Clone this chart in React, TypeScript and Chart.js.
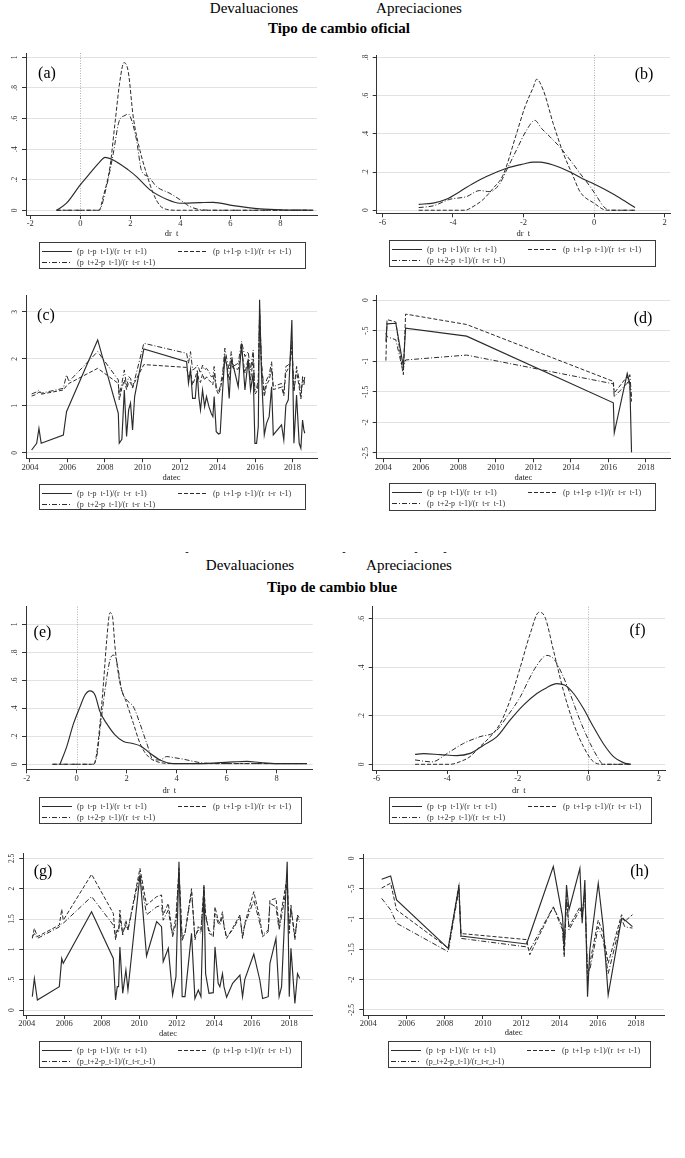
import React, { useEffect, useRef } from "react";
import { Chart, registerables } from "chart.js";
Chart.register(...registerables);

const FONT = "'Liberation Serif','Times New Roman',Times,serif";
const INK = "#2b2b2b";

// ---------------- Panel (a): official, devaluations, kernel densities ----------------
const aXSolid = [-0.95, -0.55, 0, 0.39, 0.79, 0.99, 1.32, 1.92, 2.25, 2.79, 3.45, 3.99, 4.79, 5.32, 6.12, 7.19, 8.12, 9.32];
const aYSolid = [0, 0.046, 0.166, 0.242, 0.318, 0.346, 0.329, 0.264, 0.22, 0.133, 0.072, 0.046, 0.05, 0.052, 0.03, 0.009, 0.002, 0];
const aXLead1 = [-0.95, 0.75, 0.92, 1.19, 1.39, 1.59, 1.75, 1.92, 2.12, 2.39, 2.65, 2.92, 3.19, 3.45, 3.85, 9.32];
const aYLead1 = [0, 0, 0.09, 0.285, 0.57, 0.85, 0.965, 0.906, 0.61, 0.39, 0.24, 0.11, 0.03, 0.006, 0, 0];
const aXLead2 = [-0.95, 0.75, 1.05, 1.32, 1.55, 1.79, 1.92, 2.05, 2.25, 2.45, 2.72, 3.05, 3.59, 4.0, 4.39, 4.92, 5.5, 9.32];
const aYLead2 = [0, 0, 0.155, 0.37, 0.58, 0.62, 0.63, 0.59, 0.46, 0.26, 0.22, 0.155, 0.11, 0.068, 0.024, 0.002, 0, 0];

// ---------------- Panel (b): official, appreciations ----------------
const bXSolid = [-4.97, -4.56, -4.19, -3.81, -3.43, -3.05, -2.48, -2.0, -1.72, -1.53, -1.16, -0.68, -0.3, 0, 0.36, 0.74, 1.16];
const bYSolid = [0.031, 0.037, 0.057, 0.097, 0.14, 0.176, 0.22, 0.242, 0.252, 0.252, 0.237, 0.2, 0.162, 0.137, 0.103, 0.063, 0.014];
const bXLead1 = [-4.97, -3.66, -3.43, -3.14, -2.86, -2.58, -2.2, -1.96, -1.72, -1.63, -1.44, -1.16, -0.87, -0.59, -0.4, 0, 0.36, 1.16];
const bYLead1 = [0, 0, 0.019, 0.057, 0.115, 0.184, 0.4, 0.54, 0.645, 0.685, 0.628, 0.454, 0.297, 0.176, 0.097, 0.037, 0, 0];
const bXLead2 = [-4.97, -4.56, -4.09, -3.62, -3.24, -2.95, -2.67, -2.48, -2.2, -1.91, -1.68, -1.49, -1.25, -0.97, -0.68, -0.4, -0.11, 0.08, 0.27, 0.45, 1.16];
const bYLead2 = [0.014, 0.023, 0.057, 0.071, 0.103, 0.097, 0.14, 0.21, 0.315, 0.42, 0.47, 0.428, 0.384, 0.33, 0.263, 0.193, 0.123, 0.071, 0.019, 0, 0];

// ---------------- Panel (c): official, devaluations over time ----------------
const cDates = [
  2004.09, 2004.36, 2004.48, 2004.6, 2005.78, 2005.95, 2006.08, 2007.61, 2008.71, 2008.76,
  2008.9, 2009.03, 2009.15, 2009.26, 2009.36, 2009.47, 2009.58, 2010.07, 2012.35, 2012.45,
  2012.56, 2012.67, 2012.81, 2012.92, 2013.0, 2013.09, 2013.2, 2013.31, 2013.41, 2013.54,
  2013.66, 2013.75, 2013.82, 2013.93, 2014.05, 2014.14, 2014.27, 2014.39, 2014.5, 2014.62,
  2014.73, 2014.83, 2015.1, 2015.28, 2015.46, 2015.63, 2015.76, 2015.9, 2015.99, 2016.08,
  2016.17, 2016.24, 2016.34, 2016.49, 2016.61, 2016.75, 2016.88, 2016.97, 2017.41, 2017.53,
  2017.64, 2017.77, 2017.85, 2017.96, 2018.07, 2018.21, 2018.35, 2018.44, 2018.53, 2018.6,
  2018.65,
];
const cSolid = [
  0.064, 0.206, 0.525, 0.206, 0.383, 0.879, 1.0, 2.404, 0.844, 0.206,
  0.29, 1.34, 0.35, 0.915, 1.06, 0.49, 1.2, 2.21, 1.94, 1.48,
  1.77, 1.16, 1.16, 1.7, 1.2, 0.915, 1.34, 0.986, 1.2, 0.986,
  0.844, 0.773, 1.2, 0.454, 0.404, 0.418, 1.34, 2.05, 1.84, 1.16,
  1.98, 1.87, 1.41, 2.33, 1.34, 1.98, 1.34, 1.7, 0.206, 0.206,
  0.56, 3.26, 1.7, 0.383, 0.63, 0.773, 1.41, 0.383, 0.6, 0.277,
  1.02, 1.13, 1.84, 2.83, 0.206, 1.23, 0.206, 0.1, 0.7, 0.49,
  0.42,
];
const cLead1 = [
  1.21, 1.25, 1.3, 1.25, 1.34, 1.43, 1.48, 1.8, 1.48, 1.13,
  1.38, 1.55, 1.35, 1.5, 1.5, 1.38, 1.5, 1.88, 1.82, 1.62,
  1.75, 1.45, 1.6, 1.75, 1.55, 1.5, 1.68, 1.55, 1.62, 1.55,
  1.5, 1.45, 1.7, 1.35, 1.25, 1.35, 1.6, 2.05, 1.85, 1.55,
  1.95, 1.8, 1.78, 2.2, 1.7, 2.0, 1.55, 2.0, 1.25, 1.3,
  1.45, 3.05, 1.85, 1.2, 1.45, 1.55, 1.8, 1.35, 1.4, 1.22,
  1.7, 1.8, 1.85, 2.25, 1.3, 1.75, 1.4, 1.15, 1.55, 1.45,
  1.55,
];
const cLead2 = [
  1.255, 1.3, 1.34, 1.27, 1.376, 1.66, 1.52, 2.156, 1.553, 1.234,
  1.48, 1.766, 1.41, 1.624, 1.59, 1.41, 1.553, 2.333, 2.12, 1.91,
  2.156, 1.766, 1.8, 1.87, 1.8, 1.7, 1.87, 1.766, 1.8, 1.73,
  1.624, 1.624, 1.84, 1.41, 1.3, 1.41, 1.7, 2.23, 1.98, 1.766,
  2.156, 1.84, 1.91, 2.37, 2.05, 2.156, 1.766, 2.19, 1.34, 1.376,
  1.553, 3.0, 1.94, 1.27, 1.553, 1.66, 1.94, 1.41, 1.48, 1.27,
  1.84, 1.87, 1.91, 2.4, 1.34, 1.84, 1.553, 1.2, 1.624, 1.5,
  1.62,
];

// ---------------- Panel (d): official, appreciations over time ----------------
const dDates = [2004.14, 2004.2, 2004.67, 2005.01, 2005.07, 2005.19, 2008.44, 2016.26, 2016.31, 2017.0, 2017.14, 2017.23];
const dSolid = [-0.68, -0.39, -0.38, -0.98, -1.09, -0.46, -0.59, -1.68, -2.17, -1.2, -1.36, -2.49];
const dLead1 = [-0.99, -0.32, -0.36, -1.12, -1.22, -0.23, -0.4, -1.33, -1.52, -1.25, -1.41, -1.66];
const dLead2 = [-0.54, -0.6, -0.65, -1.11, -1.11, -0.98, -0.9, -1.37, -1.58, -1.36, -1.22, -1.58];

// ---------------- Panel (e): blue, devaluations, densities ----------------
const eXSolid = [-0.67, -0.4, -0.13, 0.13, 0.33, 0.53, 0.73, 0.93, 1.2, 1.53, 1.87, 2.2, 2.6, 2.93, 3.33, 3.87, 4.93, 5.6, 6.27, 6.8, 7.33, 8.0, 9.2];
const eYSolid = [0, 0.126, 0.29, 0.41, 0.495, 0.524, 0.495, 0.376, 0.29, 0.21, 0.162, 0.15, 0.126, 0.079, 0.031, 0.005, 0.005, 0.01, 0.017, 0.021, 0.012, 0.005, 0.005];
const eXLead1 = [-0.97, 0.67, 0.8, 0.93, 1.07, 1.2, 1.33, 1.43, 1.53, 1.73, 2.0, 2.27, 2.53, 2.8, 3.2, 3.87, 9.2];
const eYLead1 = [0, 0, 0.079, 0.29, 0.58, 0.89, 1.083, 1.055, 0.84, 0.58, 0.436, 0.29, 0.15, 0.067, 0.019, 0.005, 0.005];
const eXLead2 = [-0.97, 0.67, 0.8, 0.93, 1.13, 1.33, 1.47, 1.6, 1.8, 2.0, 2.27, 2.53, 2.8, 3.07, 3.33, 3.6, 3.87, 4.27, 4.93, 5.6, 9.2];
const eYLead2 = [0, 0, 0.055, 0.245, 0.53, 0.745, 0.78, 0.733, 0.53, 0.46, 0.41, 0.29, 0.15, 0.031, 0.031, 0.055, 0.048, 0.036, 0.012, 0.005, 0.005];

// ---------------- Panel (f): blue, appreciations, densities ----------------
const fXSolid = [-4.91, -4.67, -4.2, -3.73, -3.35, -2.97, -2.59, -2.22, -1.84, -1.46, -1.18, -0.9, -0.66, -0.42, -0.14, 0.14, 0.42, 0.71, 0.99, 1.2];
const fYSolid = [0.041, 0.044, 0.04, 0.036, 0.045, 0.079, 0.114, 0.182, 0.244, 0.292, 0.316, 0.333, 0.326, 0.292, 0.23, 0.155, 0.086, 0.032, 0.007, 0];
const fXLead1 = [-4.91, -3.92, -3.63, -3.35, -3.07, -2.78, -2.5, -2.22, -1.93, -1.65, -1.4, -1.23, -0.99, -0.71, -0.42, -0.14, 0.14, 0.42, 1.2];
const fYLead1 = [0, 0, 0.011, 0.032, 0.073, 0.114, 0.168, 0.264, 0.4, 0.538, 0.627, 0.607, 0.47, 0.305, 0.168, 0.073, 0.011, 0, 0];
const fXLead2 = [-4.91, -4.43, -4.0, -3.54, -3.07, -2.64, -2.31, -1.93, -1.65, -1.46, -1.18, -0.99, -0.75, -0.52, -0.24, 0.05, 0.28, 0.42, 1.2];
const fYLead2 = [0.018, 0.01, 0.045, 0.086, 0.114, 0.134, 0.196, 0.278, 0.36, 0.408, 0.449, 0.436, 0.374, 0.292, 0.182, 0.086, 0.025, 0, 0];

// ---------------- Panel (g): blue, devaluations over time ----------------
const gDates = [
  2004.3, 2004.41, 2004.57, 2005.74, 2005.87, 2005.95, 2007.46, 2008.62, 2008.74, 2008.83,
  2008.9, 2008.97, 2009.12, 2009.29, 2009.4, 2010.04, 2010.39, 2010.93, 2011.19, 2011.28,
  2011.55, 2011.78, 2011.96, 2012.12, 2012.29, 2012.44, 2012.79, 2012.97, 2013.15, 2013.29,
  2013.45, 2013.54, 2013.72, 2013.95, 2014.04, 2014.21, 2014.3, 2014.44, 2014.52, 2014.66,
  2014.98, 2015.37, 2015.51, 2015.63, 2016.11, 2016.43, 2016.58, 2016.88, 2016.97, 2017.29,
  2017.46, 2017.59, 2017.89, 2018.0, 2018.09, 2018.3, 2018.44, 2018.56,
];
const gSolid = [
  0.22, 0.52, 0.165, 0.385, 0.85, 0.77, 1.62, 0.85, 0.165, 0.385,
  0.385, 1.04, 0.275, 0.66, 0.33, 2.225, 0.89, 1.456, 1.374, 0.797,
  1.016, 0.247, 0.55, 2.445, 0.22, 0.22, 1.264, 0.19, 0.33, 0.22,
  2.06, 0.6, 0.275, 0.286, 1.04, 0.44, 0.385, 0.6, 0.385, 0.21,
  0.44, 0.577, 0.22, 0.505, 0.923, 0.495, 0.19, 0.22, 0.77, 1.18,
  0.22, 0.385, 2.445, 0.22, 1.016, 0.11, 0.6, 0.52,
];
const gLead1 = [
  1.18, 1.346, 1.21, 1.4, 1.66, 1.48, 2.236, 1.593, 1.154, 1.32,
  1.3, 1.648, 1.236, 1.48, 1.32, 2.335, 1.73, 1.868, 1.896, 1.566,
  1.758, 1.236, 1.538, 2.335, 1.18, 1.264, 2.0, 1.154, 1.374, 1.32,
  2.03, 1.593, 1.264, 1.22, 1.7, 1.48, 1.43, 1.62, 1.374, 1.18,
  1.35, 1.566, 1.18, 1.43, 1.95, 1.51, 1.21, 1.29, 1.81, 1.84,
  1.374, 1.65, 2.2, 1.264, 1.73, 1.154, 1.566, 1.5,
];
const gLead2 = [
  1.21, 1.26, 1.18, 1.37, 1.43, 1.43, 1.87, 1.4, 1.21, 1.32,
  1.28, 1.51, 1.26, 1.4, 1.32, 2.25, 1.57, 1.7, 1.73, 1.48,
  1.65, 1.21, 1.43, 2.25, 1.15, 1.26, 1.95, 1.21, 1.32, 1.26,
  1.98, 1.54, 1.32, 1.21, 1.59, 1.43, 1.4, 1.54, 1.4, 1.2,
  1.32, 1.54, 1.21, 1.4, 1.81, 1.43, 1.24, 1.32, 1.76, 1.7,
  1.32, 1.54, 2.09, 1.32, 1.68, 1.21, 1.54, 1.45,
];

// ---------------- Panel (h): blue, appreciations over time ----------------
const hDates = [2004.7, 2005.17, 2005.48, 2008.18, 2008.74, 2008.85, 2012.28, 2012.45, 2013.68, 2014.16, 2014.25, 2014.37, 2014.5, 2015.07, 2015.19, 2015.33, 2015.47, 2015.59, 2016.03, 2016.29, 2016.55, 2017.25, 2017.42, 2017.82];
const hSolid = [-0.346, -0.291, -0.687, -1.484, -0.467, -1.28, -1.412, -1.26, -0.137, -0.962, -1.456, -0.44, -0.852, -0.165, -1.071, -0.357, -2.28, -1.511, -0.412, -1.126, -2.253, -0.989, -1.016, -1.126];
const hLead1 = [-0.49, -0.41, -0.85, -1.48, -0.44, -1.24, -1.34, -1.59, -0.8, -1.13, -1.59, -0.69, -1.13, -0.8, -0.99, -0.52, -2.0, -1.73, -1.02, -1.24, -1.73, -0.93, -1.04, -0.93];
const hLead2 = [-0.66, -0.85, -1.07, -1.54, -0.52, -1.32, -1.46, -1.51, -0.8, -1.18, -1.62, -0.6, -1.18, -0.85, -0.88, -0.6, -1.84, -1.84, -1.13, -1.35, -1.9, -1.0, -1.13, -1.15];

// ---------------- axis ticks & labels ----------------
const densTicksDev = [-2, 0, 2, 4, 6, 8];
const densTicksApp = [-6, -4, -2, 0, 2];
const yearTicks = [2004, 2006, 2008, 2010, 2012, 2014, 2016, 2018];
const yTicksA = [0, 0.2, 0.4, 0.6, 0.8, 1];
const yLabelsA = ["0", ".2", ".4", ".6", ".8", "1"];
const yTicksB = [0, 0.2, 0.4, 0.6, 0.8];
const yLabelsB = ["0", ".2", ".4", ".6", ".8"];
const yTicksC = [0, 1, 2, 3];
const yLabelsC = ["0", "1", "2", "3"];
const yTicksNeg = [0, -0.5, -1, -1.5, -2, -2.5];
const yLabelsNeg = ["0", "-.5", "-1", "-1.5", "-2", "-2.5"];
const yTicksF = [0, 0.2, 0.4, 0.6];
const yLabelsF = ["0", ".2", ".4", ".6"];
const yTicksG = [0, 0.5, 1, 1.5, 2, 2.5];
const yLabelsG = ["0", ".5", "1", "1.5", "2", "2.5"];

const LEG1 = "(p  t-p  t-1)/(r  t-r  t-1)";
const LEG2 = "(p  t+1-p  t-1)/(r  t-r  t-1)";
const LEG3 = "(p  t+2-p  t-1)/(r  t-r  t-1)";
const LEG3U = "(p_t+2-p_t-1)/(r_t-r_t-1)";

type Style = "solid" | "dash" | "dashdot";
interface Series { x: number[]; y: number[]; style: Style }
interface Box { left: number; top: number; width: number; height: number }
interface Spec {
  tag: string; tagX: number; tagY: number;
  canvasLeft: number; canvasWidth: number;
  L: number; R: number; T: number; B: number;
  xMin: number; xMax: number; yMin: number; yMax: number;
  xTicks: number[]; yTicks: number[]; yLabels: string[];
  smooth: boolean; zeroLine: boolean;
  series: Series[];
  xTitle: string; xTitleY: number;
  legend: Box; third: string;
}

const DASH: Record<Style, number[]> = { solid: [], dash: [4, 2], dashdot: [5, 2, 1, 2] };
const LW: Record<Style, number> = { solid: 1.15, dash: 1, dashdot: 1 };

const S = (x: number[], y: number[], style: Style): Series => ({ x, y, style });

const PANELS: Spec[] = [
  {
    tag: "(a)", tagX: 47, tagY: 72.5, canvasLeft: 0, canvasWidth: 340,
    L: 26, R: 317, T: 53, B: 215, xMin: -2.17, xMax: 9.47, yMin: -0.031, yMax: 1.028,
    xTicks: densTicksDev, yTicks: yTicksA, yLabels: yLabelsA, smooth: true, zeroLine: true,
    series: [S(aXSolid, aYSolid, "solid"), S(aXLead1, aYLead1, "dash"), S(aXLead2, aYLead2, "dashdot")],
    xTitle: "dr  t", xTitleY: 232.7, legend: { left: 39, top: 242, width: 267, height: 27 }, third: LEG3,
  },
  {
    tag: "(b)", tagX: 644, tagY: 73.5, canvasLeft: 340, canvasWidth: 345,
    L: 376.7, R: 670, T: 55, B: 213.3, xMin: -6.16, xMax: 2.15, yMin: -0.016, yMax: 0.812,
    xTicks: densTicksApp, yTicks: yTicksB, yLabels: yLabelsB, smooth: true, zeroLine: true,
    series: [S(bXSolid, bYSolid, "solid"), S(bXLead1, bYLead1, "dash"), S(bXLead2, bYLead2, "dashdot")],
    xTitle: "dr  t", xTitleY: 232.7, legend: { left: 389, top: 240, width: 267, height: 27 }, third: LEG3,
  },
  {
    tag: "(c)", tagX: 46, tagY: 315, canvasLeft: 0, canvasWidth: 340,
    L: 26, R: 317, T: 295, B: 458.3, xMin: 2003.79, xMax: 2019.3, yMin: -0.113, yMax: 3.36,
    xTicks: yearTicks, yTicks: yTicksC, yLabels: yLabelsC, smooth: false, zeroLine: false,
    series: [S(cDates, cSolid, "solid"), S(cDates, cLead1, "dash"), S(cDates, cLead2, "dashdot")],
    xTitle: "datec", xTitleY: 476.7, legend: { left: 39, top: 484, width: 267, height: 26 }, third: LEG3,
  },
  {
    tag: "(d)", tagX: 643, tagY: 318, canvasLeft: 340, canvasWidth: 345,
    L: 376.7, R: 670, T: 295, B: 458.3, xMin: 2003.65, xMax: 2019.28, yMin: -2.587, yMax: 0.082,
    xTicks: yearTicks, yTicks: yTicksNeg, yLabels: yLabelsNeg, smooth: false, zeroLine: false,
    series: [S(dDates, dSolid, "solid"), S(dDates, dLead1, "dash"), S(dDates, dLead2, "dashdot")],
    xTitle: "datec", xTitleY: 476.7, legend: { left: 389, top: 483, width: 267, height: 28 }, third: LEG3,
  },
  {
    tag: "(e)", tagX: 42.5, tagY: 632, canvasLeft: 0, canvasWidth: 340,
    L: 26, R: 312.7, T: 606.7, B: 769.3, xMin: -2.03, xMax: 9.44, yMin: -0.036, yMax: 1.126,
    xTicks: densTicksDev, yTicks: yTicksA, yLabels: yLabelsA, smooth: true, zeroLine: true,
    series: [S(eXSolid, eYSolid, "solid"), S(eXLead1, eYLead1, "dash"), S(eXLead2, eYLead2, "dashdot")],
    xTitle: "dr  t", xTitleY: 790, legend: { left: 39, top: 797, width: 263, height: 27 }, third: LEG3,
  },
  {
    tag: "(f)", tagX: 637.5, tagY: 630, canvasLeft: 340, canvasWidth: 345,
    L: 372.7, R: 665, T: 606.7, B: 770, xMin: -6.11, xMax: 2.17, yMin: -0.0235, yMax: 0.65,
    xTicks: densTicksApp, yTicks: yTicksF, yLabels: yLabelsF, smooth: true, zeroLine: true,
    series: [S(fXSolid, fYSolid, "solid"), S(fXLead1, fYLead1, "dash"), S(fXLead2, fYLead2, "dashdot")],
    xTitle: "dr  t", xTitleY: 790, legend: { left: 389, top: 797, width: 263, height: 27 }, third: LEG3,
  },
  {
    tag: "(g)", tagX: 43, tagY: 871, canvasLeft: 0, canvasWidth: 340,
    L: 23.3, R: 312.7, T: 853.3, B: 1015, xMin: 2003.82, xMax: 2019.25, yMin: -0.082, yMax: 2.583,
    xTicks: yearTicks, yTicks: yTicksG, yLabels: yLabelsG, smooth: false, zeroLine: false,
    series: [S(gDates, gSolid, "solid"), S(gDates, gLead1, "dash"), S(gDates, gLead2, "dashdot")],
    xTitle: "datec", xTitleY: 1032.7, legend: { left: 39, top: 1041, width: 263, height: 27 }, third: LEG3U,
  },
  {
    tag: "(h)", tagX: 639.5, tagY: 871, canvasLeft: 340, canvasWidth: 345,
    L: 363.3, R: 664, T: 854, B: 1015, xMin: 2003.74, xMax: 2019.47, yMin: -2.583, yMax: 0.071,
    xTicks: yearTicks, yTicks: yTicksNeg, yLabels: yLabelsNeg, smooth: false, zeroLine: false,
    series: [S(hDates, hSolid, "solid"), S(hDates, hLead1, "dash"), S(hDates, hLead2, "dashdot")],
    xTitle: "datec", xTitleY: 1031.7, legend: { left: 388, top: 1041, width: 263, height: 27 }, third: LEG3U,
  },
];

function PanelChart({ p }: { p: Spec }) {
  const ref = useRef<HTMLCanvasElement>(null);
  const canvasTop = Math.round(p.T - 12);
  const canvasH = Math.round(p.B + 20) - canvasTop;
  useEffect(() => {
    const localT = p.T - canvasTop;
    const localB = p.B - canvasTop;
    const localL = p.L - p.canvasLeft;
    const localR = p.R - p.canvasLeft;
    const decor = {
      id: "stataDecor",
      beforeDatasetsDraw(chart: any) {
        if (!p.zeroLine) return;
        const { ctx, chartArea } = chart;
        const x = Math.round(chart.scales.x.getPixelForValue(0)) + 0.5;
        ctx.save();
        ctx.strokeStyle = "#b0b0b0";
        ctx.lineWidth = 1;
        ctx.setLineDash([1, 1.5]);
        ctx.beginPath();
        ctx.moveTo(x, chartArea.top);
        ctx.lineTo(x, chartArea.bottom);
        ctx.stroke();
        ctx.restore();
      },
      afterDraw(chart: any) {
        const { ctx, chartArea } = chart;
        const ys = chart.scales.y;
        ctx.save();
        ctx.fillStyle = INK;
        ctx.font = `7.5px ${FONT}`;
        ctx.textAlign = "center";
        ctx.textBaseline = "middle";
        p.yTicks.forEach((v, i) => {
          const y = ys.getPixelForValue(v);
          ctx.save();
          ctx.translate(chartArea.left - 11, y);
          ctx.rotate(-Math.PI / 2);
          ctx.fillText(p.yLabels[i], 0, 0);
          ctx.restore();
        });
        ctx.restore();
      },
    };
    const chart = new Chart(ref.current as HTMLCanvasElement, {
      type: "line",
      data: {
        datasets: p.series.map((s) => ({
          data: s.x.map((x, i) => ({ x, y: s.y[i] })),
          borderColor: INK,
          borderWidth: LW[s.style],
          borderDash: DASH[s.style],
          pointRadius: 0,
          fill: false,
          tension: 0,
          cubicInterpolationMode: p.smooth ? "monotone" : "default",
        })) as any,
      },
      options: {
        responsive: false,
        animation: false,
        events: [],
        layout: { padding: { top: localT, right: p.canvasWidth - localR, left: 0, bottom: 0 } },
        plugins: { legend: { display: false }, tooltip: { enabled: false }, title: { display: false } },
        scales: {
          x: {
            type: "linear",
            min: p.xMin,
            max: p.xMax,
            afterBuildTicks: (s: any) => { s.ticks = p.xTicks.map((v) => ({ value: v })); },
            afterFit: (s: any) => { s.height = canvasH - localB; },
            ticks: {
              autoSkip: false, maxRotation: 0, minRotation: 0, padding: 0,
              color: INK, font: { family: FONT, size: 8.5 },
              callback: (v: any) => String(v),
            },
            grid: { drawOnChartArea: false, drawTicks: true, tickLength: 4, tickColor: "#333", tickWidth: 1 },
            border: { display: true, color: "#333", width: 1 },
          },
          y: {
            type: "linear",
            min: p.yMin,
            max: p.yMax,
            afterBuildTicks: (s: any) => { s.ticks = p.yTicks.map((v) => ({ value: v })); },
            afterFit: (s: any) => { s.width = localL; },
            ticks: { display: false },
            grid: { color: "#e2e2e2", lineWidth: 1, drawTicks: true, tickLength: 4, tickColor: "#333", tickWidth: 1 },
            border: { display: true, color: "#333", width: 1 },
          },
        },
      } as any,
      plugins: [decor],
    });
    return () => chart.destroy();
  }, []);
  return (
    <canvas
      ref={ref}
      width={p.canvasWidth}
      height={canvasH}
      style={{ position: "absolute", left: p.canvasLeft, top: canvasTop, width: p.canvasWidth, height: canvasH }}
    />
  );
}

function Txt({ x, y, size, bold, children, color }: { x: number; y: number; size: number; bold?: boolean; children: React.ReactNode; color?: string }) {
  return (
    <div
      style={{
        position: "absolute", left: x, top: y, transform: "translate(-50%, -50%)",
        fontFamily: FONT, fontSize: size, fontWeight: bold ? "bold" : "normal",
        lineHeight: 1, whiteSpace: "pre", color: color || "#000",
      }}
    >
      {children}
    </div>
  );
}

function Legend({ box, third }: { box: Box; third: string }) {
  const r1 = 8.5;
  const r2 = 19.5;
  const text = (x: number, y: number, s: string) => (
    <div style={{ position: "absolute", left: x, top: y - 5, fontFamily: FONT, fontSize: 8, lineHeight: "10px", whiteSpace: "pre", color: "#333" }}>{s}</div>
  );
  return (
    <div style={{ position: "absolute", left: box.left, top: box.top, width: box.width, height: box.height, border: "1px solid #3a3a3a", boxSizing: "border-box", background: "#fff" }}>
      <svg width={box.width} height={box.height} style={{ position: "absolute", left: 0, top: 0 }}>
        <line x1={2} x2={32} y1={r1} y2={r1} stroke={INK} strokeWidth={1} />
        <line x1={138} x2={168} y1={r1} y2={r1} stroke={INK} strokeWidth={1} strokeDasharray="4 2" />
        <line x1={2} x2={32} y1={r2} y2={r2} stroke={INK} strokeWidth={1} strokeDasharray="5 2 1 2" />
      </svg>
      {text(37, r1, LEG1)}
      {text(173, r1, LEG2)}
      {text(37, r2, third)}
    </div>
  );
}

export default function App() {
  return (
    <div style={{ position: "absolute", left: 0, top: 0, width: 685, height: 1158, background: "#fff", overflow: "hidden" }}>
      <Txt x={254} y={8} size={15}>Devaluaciones</Txt>
      <Txt x={419} y={8} size={15}>Apreciaciones</Txt>
      <Txt x={339} y={28} size={15} bold>Tipo de cambio oficial</Txt>

      <Txt x={187} y={552} size={10}>-</Txt>
      <Txt x={344} y={552} size={10}>-</Txt>
      <Txt x={416} y={552} size={10}>-</Txt>
      <Txt x={445} y={552} size={10}>-</Txt>
      <Txt x={250} y={565} size={15}>Devaluaciones</Txt>
      <Txt x={409} y={565} size={15}>Apreciaciones</Txt>
      <Txt x={332} y={587} size={15} bold>Tipo de cambio blue</Txt>

      {PANELS.map((p) => (
        <React.Fragment key={p.tag}>
          <PanelChart p={p} />
          <Txt x={p.tagX} y={p.tagY} size={16}>{p.tag}</Txt>
          <Txt x={(p.L + p.R) / 2} y={p.xTitleY} size={8.5} color="#222">{p.xTitle}</Txt>
          <Legend box={p.legend} third={p.third} />
        </React.Fragment>
      ))}
    </div>
  );
}
